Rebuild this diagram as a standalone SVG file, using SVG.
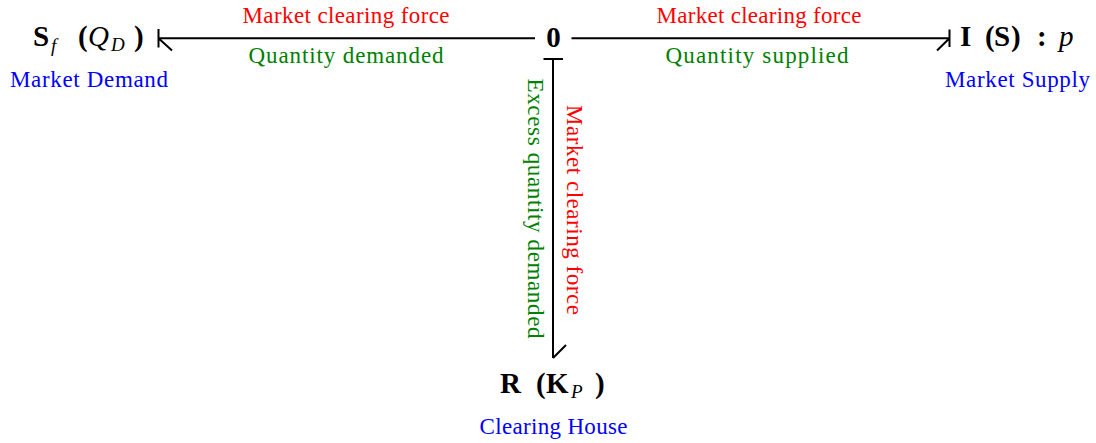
<svg xmlns="http://www.w3.org/2000/svg" width="1096" height="443" viewBox="0 0 1096 443">
<style>
.bg{fill:#ffffff}
.bond{fill:none;stroke:#000000;stroke-width:2;stroke-linecap:butt}
.nd{font-family:"Liberation Serif","Times New Roman",serif;font-weight:bold;font-size:29px;fill:#000000}
.it{font-family:"Liberation Serif","Times New Roman",serif;font-style:italic;font-weight:normal;fill:#000000}
.big{font-size:29px}
.sub{font-size:19px}
.lbl{font-family:"Liberation Serif","Times New Roman",serif;font-size:23px}
.red{fill:#ff0000}
.grn{fill:#008000}
.blu{fill:#0000ff}
</style>
<rect class="bg" x="0" y="0" width="1096" height="443"/>

<g id="connectors">
  <g id="bond-0-Sf">
    <path class="bond" d="M535 38.3 H158.5 M158.5 29 V47.5 M158.5 38.3 L172 50.5"/>
    <text class="lbl red" x="346" y="23" text-anchor="middle" textLength="207" lengthAdjust="spacing">Market clearing force</text>
    <text class="lbl grn" x="346" y="62.5" text-anchor="middle" textLength="195" lengthAdjust="spacing">Quantity demanded</text>
  </g>
  <g id="bond-0-I">
    <path class="bond" d="M571.5 38.3 H949.5 M949.5 29.5 V47 M949.5 38.3 L937 50.5"/>
    <text class="lbl red" x="759" y="23" text-anchor="middle" textLength="205" lengthAdjust="spacing">Market clearing force</text>
    <text class="lbl grn" x="757" y="62.5" text-anchor="middle" textLength="183" lengthAdjust="spacing">Quantity supplied</text>
  </g>
  <g id="bond-0-R">
    <path class="bond" d="M553 59 V358 M543.5 59 H563 M553 358 L566 345"/>
    <text class="lbl red" transform="translate(566.5,210) rotate(90)" text-anchor="middle" textLength="210" lengthAdjust="spacing">Market clearing force</text>
    <text class="lbl grn" transform="translate(528,208.5) rotate(90)" text-anchor="middle" textLength="260" lengthAdjust="spacing">Excess quantity demanded</text>
  </g>
</g>

<g id="node-zero">
  <text class="nd" x="553.5" y="46.5" text-anchor="middle">0</text>
</g>

<g id="node-Sf">
  <text class="nd" y="46"><tspan x="33">S</tspan><tspan class="it sub" x="51" y="52">f</tspan><tspan x="78" y="46">(</tspan><tspan class="it big" x="88">Q</tspan><tspan class="it sub" x="111" y="51">D</tspan><tspan x="134" y="46">)</tspan></text>
  <text class="lbl blu" x="89" y="87" text-anchor="middle" textLength="158" lengthAdjust="spacing">Market Demand</text>
</g>

<g id="node-I">
  <text class="nd" y="46"><tspan x="960">I</tspan><tspan x="985">(</tspan><tspan x="994">S</tspan><tspan x="1011">)</tspan><tspan x="1037">:</tspan><tspan class="it big" x="1059">p</tspan></text>
  <text class="lbl blu" x="1017.5" y="87" text-anchor="middle" textLength="145" lengthAdjust="spacing">Market Supply</text>
</g>

<g id="node-R">
  <text class="nd" y="393"><tspan x="500">R</tspan><tspan x="536">(</tspan><tspan x="546">K</tspan><tspan class="it sub" x="571" y="398">P</tspan><tspan x="595" y="393">)</tspan></text>
  <text class="lbl blu" x="553.5" y="434" text-anchor="middle" textLength="148" lengthAdjust="spacing">Clearing House</text>
</g>
</svg>
